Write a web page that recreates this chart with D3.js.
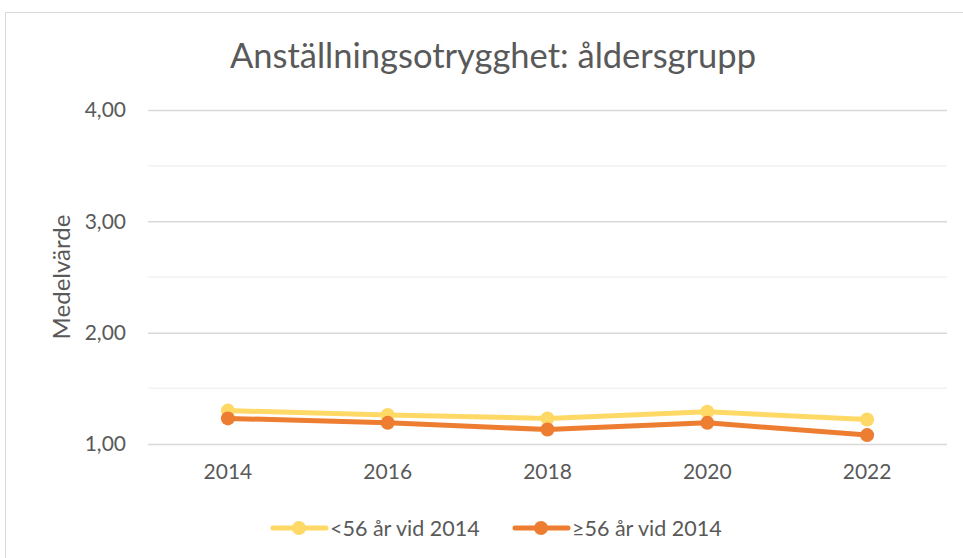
<!DOCTYPE html>
<html>
<head>
<meta charset="utf-8">
<script src="https://cdn.jsdelivr.net/npm/d3@7"></script>
<style>
  body { margin: 0; background: #fff; }
  text { font-family: Lato, "Open Sans", sans-serif; fill: #595959; }
</style>
</head>
<body>
<div id="chart"></div>
<script>
// data
var years = ["2014", "2016", "2018", "2020", "2022"];
var under56 = [1.30, 1.26, 1.23, 1.29, 1.22];
var over56 = [1.23, 1.19, 1.13, 1.19, 1.08];
var seriesNames = ["<56 år vid 2014", "≥56 år vid 2014"];
var majorTicks = [1, 2, 3, 4];
var minorTicks = [1.5, 2.5, 3.5];

var W = 963, H = 558;
var margin = {top: 110, right: 16, bottom: 114, left: 148},
    width = W - margin.left - margin.right,
    height = H - margin.top - margin.bottom;

var svg = d3.select("#chart").append("svg")
    .attr("width", W)
    .attr("height", H);

// chart border
svg.append("rect")
    .attr("x", 5.5).attr("y", 12.5)
    .attr("width", W).attr("height", H)
    .attr("fill", "none")
    .attr("stroke", "#d9d9d9");

var g = svg.append("g")
    .attr("transform", "translate(" + margin.left + "," + margin.top + ")");

var x = d3.scaleBand().domain(years).range([0, width]);
var y = d3.scaleLinear().domain([1, 4]).range([height, 0]);

// minor gridlines
g.selectAll(".minor")
    .data(minorTicks)
    .enter().append("line")
    .attr("x1", 0).attr("x2", width)
    .attr("y1", function(d) { return y(d); })
    .attr("y2", function(d) { return y(d); })
    .attr("stroke", "#f2f2f2")
    .attr("stroke-width", 1.5);

// y axis with major gridlines
var yAxis = d3.axisLeft(y)
    .tickValues(majorTicks)
    .tickSize(-width)
    .tickPadding(22)
    .tickFormat(function(d) { return d3.format(".2f")(d).replace(".", ","); });

g.append("g")
    .attr("class", "y axis")
    .call(yAxis)
    .call(function(s) {
        s.select(".domain").remove();
        s.selectAll("line").attr("stroke", "#d9d9d9").attr("stroke-width", 1.5);
        s.selectAll("text").style("font-size", "21px").attr("fill", "#595959");
    });

// x axis labels
var xAxis = d3.axisBottom(x).tickSize(0).tickPadding(20);
g.append("g")
    .attr("transform", "translate(0," + height + ")")
    .call(xAxis)
    .call(function(s) {
        s.select(".domain").remove();
        s.selectAll("text").style("font-size", "21px").attr("fill", "#595959");
    });

var colors = ["#ffd966", "#ed7d31"];
var allSeries = [under56, over56];

var line = d3.line()
    .x(function(d, i) { return x(years[i]) + x.bandwidth() / 2; })
    .y(function(d) { return y(d); });

allSeries.forEach(function(vals, k) {
    g.append("path")
        .datum(vals)
        .attr("fill", "none")
        .attr("stroke", colors[k])
        .attr("stroke-width", 5)
        .attr("stroke-linejoin", "round")
        .attr("d", line);
    g.selectAll(".pt" + k)
        .data(vals)
        .enter().append("circle")
        .attr("cx", function(d, i) { return x(years[i]) + x.bandwidth() / 2; })
        .attr("cy", function(d) { return y(d); })
        .attr("r", 7)
        .attr("fill", colors[k]);
});

// title
svg.append("text")
    .attr("x", 493).attr("y", 68)
    .attr("text-anchor", "middle")
    .style("font-size", "34.5px")
    .text("Anställningsotrygghet: åldersgrupp");

// y axis title
svg.append("text")
    .attr("transform", "translate(70," + (margin.top + height / 2) + ") rotate(-90)")
    .attr("text-anchor", "middle")
    .style("font-size", "24px")
    .text("Medelvärde");

// legend
var legendX = [271, 513];
seriesNames.forEach(function(name, k) {
    var lg = svg.append("g").attr("transform", "translate(" + legendX[k] + ",528)");
    lg.append("line")
        .attr("x1", 2).attr("x2", 55)
        .attr("stroke", colors[k]).attr("stroke-width", 5)
        .attr("stroke-linecap", "round");
    lg.append("circle").attr("cx", 28).attr("r", 7).attr("fill", colors[k]);
    lg.append("text")
        .attr("x", 59).attr("dy", "0.35em")
        .style("font-size", "21.5px")
        .text(name);
});
</script>
</body>
</html>
